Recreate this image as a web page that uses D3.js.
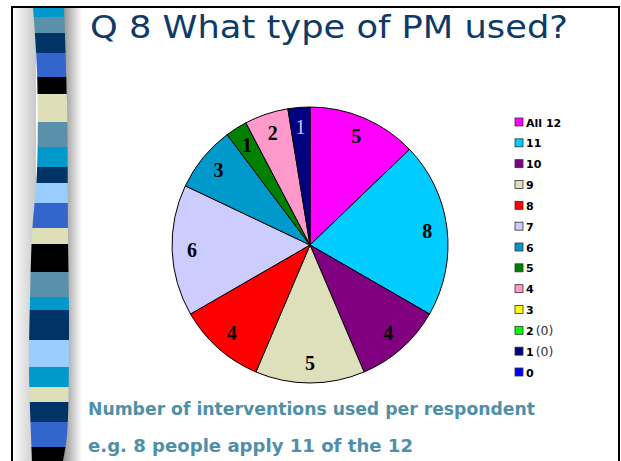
<!DOCTYPE html>
<html>
<head>
<meta charset="utf-8">
<script src="https://cdn.jsdelivr.net/npm/d3@7"></script>
<style>
  html, body { margin: 0; padding: 0; background: #fff; }
  svg { display: block; }
</style>
</head>
<body>
<svg id="chart" width="621" height="461"></svg>
<script>
// number of interventions used -> number of respondents
const categories = ['All 12', '11', '10', '9', '8', '7', '6', '5', '4', '3', '2', '1', '0'];
const counts = [5, 8, 4, 5, 4, 6, 3, 1, 2, 0, 0, 1, 0];
const legendNotes = ['', '', '', '', '', '', '', '', '', '', '(0)', '(0)', ''];
const sliceColors = ['#ff00ff', '#00ccff', '#800080', '#dedfbb', '#ff0000', '#ccccff',
  '#0099cc', '#008000', '#ff99cc', '#ffff00', '#00ff00', '#000080', '#0000ff'];

// decorative ribbon on the left of the slide
const stripeColors = ['#0099cc', '#5a90aa', '#003366', '#3366cc', '#000000', '#dedfb8',
  '#5a90aa', '#0099cc', '#003366', '#99ccff', '#3366cc', '#dedfb8', '#000000',
  '#5a90aa', '#0099cc', '#003366', '#99ccff', '#0099cc', '#dedfb8', '#003366',
  '#3366cc', '#000000'];
const stripeEnds = [17, 33, 53, 77, 94, 122, 147, 167, 183, 203, 228, 244, 272,
  297, 310, 340, 367, 387, 402, 422, 447, 461];

const svg = d3.select('#chart');
const defs = svg.append('defs');

// shading either side of the ribbon
const gLeft = defs.append('linearGradient').attr('id', 'shadeL');
gLeft.append('stop').attr('offset', '0%').attr('stop-color', '#ffffff');
gLeft.append('stop').attr('offset', '100%').attr('stop-color', '#c8c8c8');
const gRight = defs.append('linearGradient').attr('id', 'shadeR');
gRight.append('stop').attr('offset', '0%').attr('stop-color', '#8c8c8c');
gRight.append('stop').attr('offset', '100%').attr('stop-color', '#ffffff');

svg.append('rect').attr('x', 12).attr('y', 7).attr('width', 24).attr('height', 454)
  .attr('fill', 'url(#shadeL)');
svg.append('rect').attr('x', 62).attr('y', 7).attr('width', 20).attr('height', 454)
  .attr('fill', 'url(#shadeR)');

// ribbon outline (left edge down, right edge up)
const leftEdge = [[33, 7], [37, 70], [37, 170], [32, 235], [30, 300], [29, 370], [31, 435], [32, 461]];
const rightEdge = [[63, 461], [67, 435], [69, 330], [68, 235], [67, 100], [64, 7]];
const ribbonPath = d3.line().curve(d3.curveCatmullRom)(leftEdge) +
  'L' + d3.line().curve(d3.curveCatmullRom)(rightEdge).slice(1) + 'Z';
defs.append('clipPath').attr('id', 'ribbon').append('path').attr('d', ribbonPath);

svg.append('g').attr('clip-path', 'url(#ribbon)')
  .selectAll('rect')
  .data(stripeColors)
  .join('rect')
  .attr('x', 20)
  .attr('width', 60)
  .attr('y', (d, i) => i === 0 ? 7 : stripeEnds[i - 1])
  .attr('height', (d, i) => stripeEnds[i] - (i === 0 ? 7 : stripeEnds[i - 1]))
  .attr('fill', d => d);

// slide frame
svg.append('path')
  .attr('d', 'M12,461 L12,7 L619,7 L619,461')
  .attr('fill', 'none')
  .attr('stroke', '#000')
  .attr('stroke-width', 2);

// title
svg.append('text')
  .attr('x', 90).attr('y', 38)
  .attr('textLength', 478)
  .attr('lengthAdjust', 'spacingAndGlyphs')
  .style('font-family', '"DejaVu Sans", sans-serif')
  .style('font-size', '32px')
  .attr('fill', '#0d3a66')
  .text('Q 8 What type of PM used?');

// pie
const cx = 310, cy = 245, radius = 138;
const pieData = categories.map((c, i) => ({ cat: c, value: counts[i], color: sliceColors[i] }));
const pie = d3.pie().sort(null).value(d => d.value);
const arcs = pie(pieData).filter(d => d.data.value > 0);
const arc = d3.arc().innerRadius(0).outerRadius(radius);
const labelArc = d3.arc().innerRadius(118).outerRadius(118);

const pieG = svg.append('g').attr('transform', `translate(${cx},${cy})`);
pieG.selectAll('path')
  .data(arcs)
  .join('path')
  .attr('d', arc)
  .attr('fill', d => d.data.color)
  .attr('stroke', '#000')
  .attr('stroke-width', 1);

pieG.selectAll('text')
  .data(arcs)
  .join('text')
  .attr('transform', d => `translate(${labelArc.centroid(d)})`)
  .attr('text-anchor', 'middle')
  .attr('dy', '0.35em')
  .style('font-family', '"Liberation Serif", "Times New Roman", serif')
  .style('font-size', '20px')
  .style('font-weight', d => d.data.cat === '1' ? 'normal' : 'bold')
  .attr('fill', d => d.data.cat === '1' ? '#ccccff' : '#000')
  .text(d => d.data.value);

// legend
const legendY = d3.scalePoint().domain(categories).range([122, 372]);
const legend = svg.append('g').selectAll('g')
  .data(categories)
  .join('g')
  .attr('transform', d => `translate(515,${legendY(d)})`);
legend.append('rect')
  .attr('x', 0).attr('y', -4)
  .attr('width', 8).attr('height', 8)
  .attr('fill', (d, i) => sliceColors[i])
  .attr('stroke', '#333')
  .attr('stroke-width', 0.8);
const legendText = legend.append('text')
  .attr('x', 11).attr('y', 4.5)
  .style('font-family', '"DejaVu Sans", sans-serif')
  .style('font-size', '11px');
legendText.append('tspan')
  .style('font-weight', 'bold')
  .text(d => d);
legendText.append('tspan')
  .attr('dx', 2)
  .attr('fill', '#333')
  .style('font-size', '12.5px')
  .text((d, i) => legendNotes[i]);

// footnote
const notes = ['Number of interventions used per respondent', 'e.g. 8 people apply 11 of the 12'];
const noteWidths = [447, 325];
svg.selectAll('.note')
  .data(notes)
  .join('text')
  .attr('class', 'note')
  .attr('x', 88)
  .attr('y', (d, i) => 415 + i * 37)
  .attr('textLength', (d, i) => noteWidths[i])
  .attr('lengthAdjust', 'spacingAndGlyphs')
  .style('font-family', '"DejaVu Sans", sans-serif')
  .style('font-size', '17px')
  .style('font-weight', 'bold')
  .attr('fill', '#4f8fa8')
  .text(d => d);
</script>
</body>
</html>
